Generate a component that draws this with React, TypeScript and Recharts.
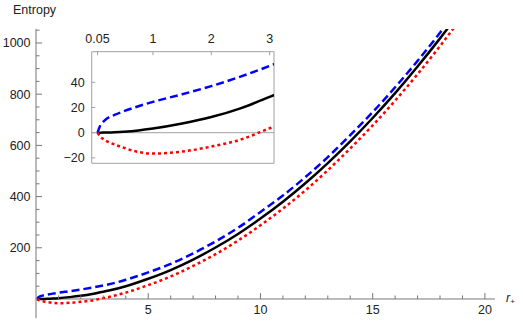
import { LineChart, Line, XAxis, YAxis, ReferenceLine, ReferenceArea } from 'recharts';

// horizon radius samples and the three entropy curves
const R_PLUS = [0.05, 0.1, 0.15, 0.2, 0.35, 0.5, 0.75, 1, 1.5, 2, 2.5, 3, 3.25, 4, 5, 6, 7, 8, 9, 10, 11, 12, 13, 14, 15, 16, 17, 18, 19, 20];
const S_SOLID = [0, 0.02, 0.06, 0.12, 0.38, 0.8, 1.8, 3.3, 7.3, 12.4, 19.3, 28.5, 33, 50, 79, 113, 154, 201, 254, 314, 380, 452, 531, 616, 707, 804, 908, 1018, 1134, 1257];
const S_DASHED = [0, 6, 8.7, 10.8, 14.3, 17, 21, 24.5, 30.5, 37, 44.5, 53, 57.5, 75, 104, 137, 178, 225, 278, 340, 404, 476, 554, 640, 730, 827, 930, 1040, 1156, 1279];
const S_DOTTED = [0, -3.5, -5, -6.5, -9.5, -12, -15.3, -16.6, -15, -11, -5.5, 3.5, 8, 25, 54, 88, 129, 175, 228, 288, 353, 424, 503, 588, 678, 775, 878, 988, 1104, 1227];

const MAIN_X_TICKS = [1, 2, 3, 4, 5, 6, 7, 8, 9, 10, 11, 12, 13, 14, 15, 16, 17, 18, 19, 20];
const MAIN_X_LABELS = [5, 10, 15, 20];
const MAIN_Y_TICKS = [50, 100, 150, 200, 250, 300, 350, 400, 450, 500, 550, 600, 650, 700, 750, 800, 850, 900, 950, 1000, 1050];
const MAIN_Y_LABELS = [200, 400, 600, 800, 1000];
const INSET_X_TICKS = [0.05, 1, 2, 3];
const INSET_Y_TICKS = [-20, 0, 20, 40];

const W = 523;
const H = 324;
const MAIN_X_DOMAIN = [0, 20.45];
const MAIN_Y_DOMAIN = [-75, 1055];
const INSET_X_DOMAIN = [-0.05, 3.075];
const INSET_Y_DOMAIN = [-24.3, 64.3];

// plot-area edges; each axis takes 1px of the margin
const MAIN_BOX = { top: 28.9, right: 28, bottom: 5.8, left: 36 };
const INSET_BOX = { top: 51.7, right: 249, bottom: 160.7, left: 91.7 };
const MAIN_M = { top: MAIN_BOX.top, right: MAIN_BOX.right, bottom: MAIN_BOX.bottom - 1, left: MAIN_BOX.left - 1 };
const INSET_M = { top: INSET_BOX.top - 1, right: INSET_BOX.right, bottom: INSET_BOX.bottom, left: INSET_BOX.left - 1 };
const ZERO_Y =
  MAIN_BOX.top +
  (MAIN_Y_DOMAIN[1] / (MAIN_Y_DOMAIN[1] - MAIN_Y_DOMAIN[0])) * (H - MAIN_BOX.top - MAIN_BOX.bottom);

const FONT = '"Liberation Sans", Arial, sans-serif';
const AXIS = '#777';
const FRAME = '#a0a0a0';
const LABEL = '#222';

const rows = R_PLUS.map((r, i) => ({ r, solid: S_SOLID[i], dashed: S_DASHED[i], dotted: S_DOTTED[i] }));
const insetRows = rows.filter((d) => d.r <= 3.25);

const fmt = (v: number) => (v < 0 ? '\u2212' + Math.abs(v) : String(v));

function MainXTick({ x, payload }: any) {
  const major = MAIN_X_LABELS.includes(payload.value);
  return (
    <g>
      <line x1={x} x2={x} y1={ZERO_Y} y2={ZERO_Y - (major ? 6 : 3.5)} stroke={AXIS} />
      {major && (
        <text x={x} y={ZERO_Y + 15.5} textAnchor="middle" fontSize={12.5} fontFamily={FONT} fill={LABEL}>
          {payload.value}
        </text>
      )}
    </g>
  );
}

function MainYTick({ y, payload }: any) {
  const major = MAIN_Y_LABELS.includes(payload.value);
  return (
    <g>
      <line x1={MAIN_BOX.left} x2={MAIN_BOX.left + (major ? 6 : 3.5)} y1={y} y2={y} stroke={AXIS} />
      {major && (
        <text x={MAIN_BOX.left - 5.5} y={y + 4.5} textAnchor="end" fontSize={12.5} fontFamily={FONT} fill={LABEL}>
          {payload.value}
        </text>
      )}
    </g>
  );
}

function InsetXTick({ x, payload }: any) {
  return (
    <g>
      <line x1={x} x2={x} y1={INSET_BOX.top} y2={INSET_BOX.top + 3.5} stroke={FRAME} />
      <text x={x} y={INSET_BOX.top - 8.4} textAnchor="middle" fontSize={12.5} fontFamily={FONT} fill={LABEL}>
        {payload.value}
      </text>
    </g>
  );
}

function InsetYTick({ y, payload }: any) {
  return (
    <g>
      <line x1={INSET_BOX.left} x2={INSET_BOX.left + 3.5} y1={y} y2={y} stroke={FRAME} />
      <text x={INSET_BOX.left - 7} y={y + 4.5} textAnchor="end" fontSize={12.5} fontFamily={FONT} fill={LABEL}>
        {fmt(payload.value)}
      </text>
    </g>
  );
}

function Curves() {
  return [
    <Line key="s" dataKey="solid" type="monotone" stroke="#000" strokeWidth={2.5} dot={false} isAnimationActive={false} />,
    <Line key="d" dataKey="dashed" type="monotone" stroke="#0000ff" strokeWidth={2.5} strokeDasharray="8 4" dot={false} isAnimationActive={false} />,
    <Line key="o" dataKey="dotted" type="monotone" stroke="#ff0000" strokeWidth={2.5} strokeDasharray="3 3" dot={false} isAnimationActive={false} />,
  ];
}

export default function App() {
  return (
    <div style={{ position: 'absolute', left: 0, top: 0, width: W, height: H, background: '#fff' }}>
      <div style={{ position: 'absolute', left: 0, top: 0 }}>
        <LineChart width={W} height={H} data={rows} margin={MAIN_M}>
          <XAxis
            dataKey="r"
            type="number"
            domain={MAIN_X_DOMAIN}
            allowDataOverflow
            ticks={MAIN_X_TICKS}
            interval={0}
            height={1}
            axisLine={false}
            tickLine={false}
            tick={(p: any) => <MainXTick {...p} />}
          />
          <YAxis
            type="number"
            domain={MAIN_Y_DOMAIN}
            allowDataOverflow
            ticks={MAIN_Y_TICKS}
            interval={0}
            width={1}
            axisLine={{ stroke: AXIS }}
            tickLine={false}
            tick={(p: any) => <MainYTick {...p} />}
          />
          <ReferenceLine y={0} stroke={AXIS} strokeWidth={1} />
          {Curves()}
        </LineChart>
      </div>
      <div style={{ position: 'absolute', left: 0, top: 0 }}>
        <LineChart width={W} height={H} data={insetRows} margin={INSET_M}>
          <XAxis
            dataKey="r"
            type="number"
            orientation="top"
            domain={INSET_X_DOMAIN}
            allowDataOverflow
            ticks={INSET_X_TICKS}
            interval={0}
            height={1}
            axisLine={false}
            tickLine={false}
            tick={(p: any) => <InsetXTick {...p} />}
          />
          <YAxis
            type="number"
            domain={INSET_Y_DOMAIN}
            allowDataOverflow
            ticks={INSET_Y_TICKS}
            interval={0}
            width={1}
            axisLine={false}
            tickLine={false}
            tick={(p: any) => <InsetYTick {...p} />}
          />
          <ReferenceArea
            x1={INSET_X_DOMAIN[0]}
            x2={INSET_X_DOMAIN[1]}
            y1={INSET_Y_DOMAIN[0]}
            y2={INSET_Y_DOMAIN[1]}
            fill="#fff"
            fillOpacity={1}
            stroke={FRAME}
          />
          <ReferenceLine y={0} stroke={FRAME} strokeWidth={1} />
          {Curves()}
        </LineChart>
      </div>
      <svg width={W} height={H} style={{ position: 'absolute', left: 0, top: 0, pointerEvents: 'none' }}>
        <text x={13} y={14} fontSize={12.5} fontFamily={FONT} fill={LABEL}>
          Entropy
        </text>
        <text x={506} y={301.5} fontSize={12.5} fontFamily={FONT} fill={LABEL}>
          <tspan fontStyle="italic">r</tspan>
          <tspan fontSize={8} dy={2.5}>+</tspan>
        </text>
      </svg>
    </div>
  );
}
